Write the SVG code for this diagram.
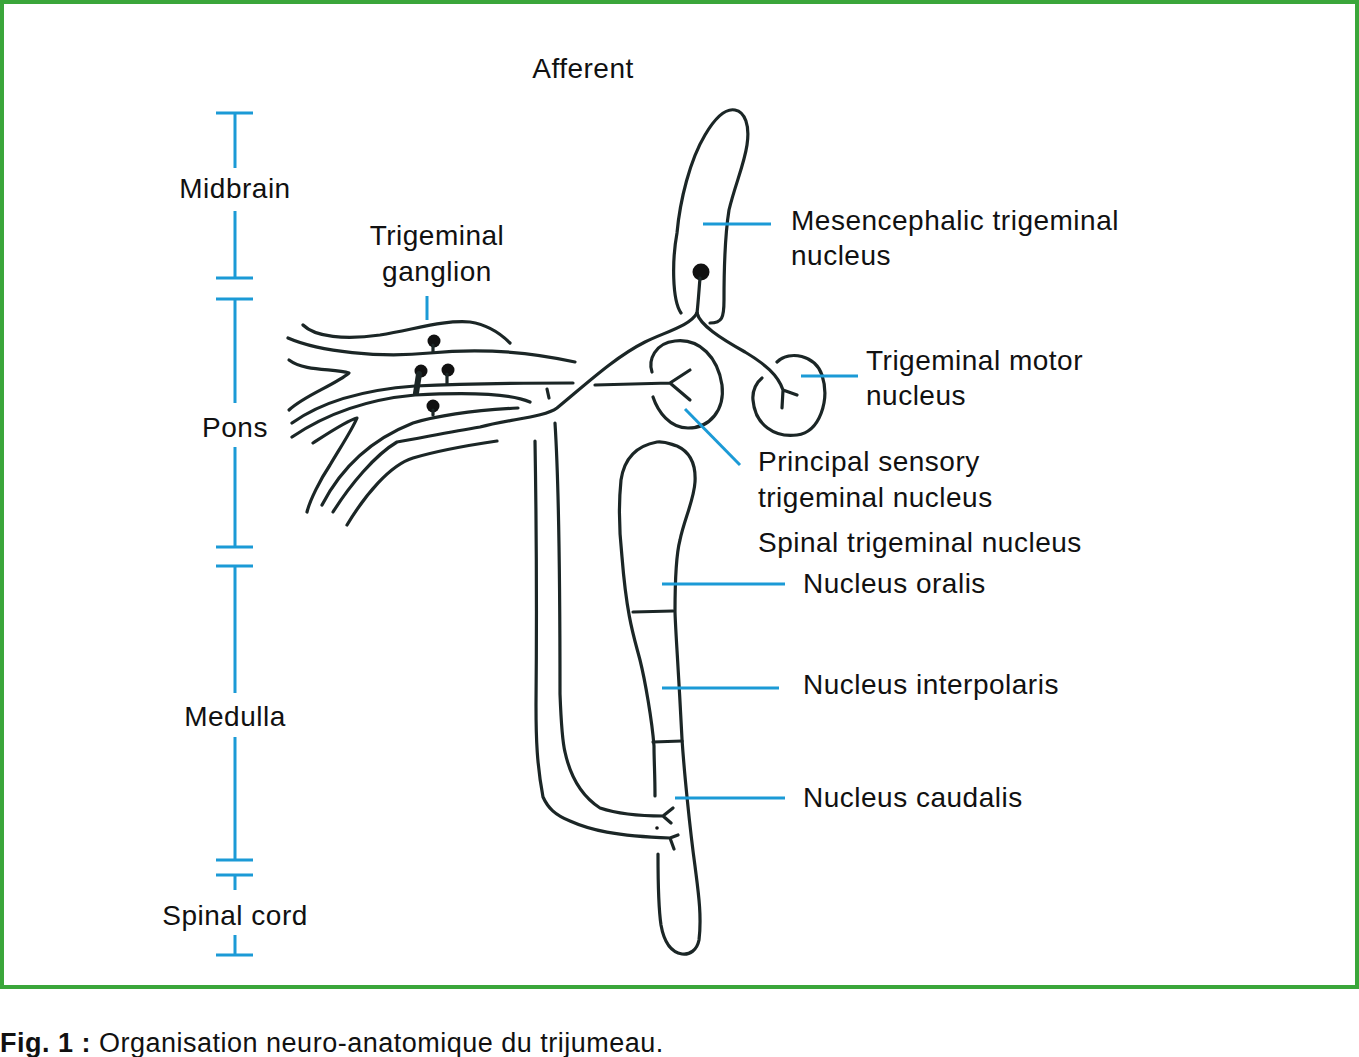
<svg xmlns="http://www.w3.org/2000/svg" width="1359" height="1057" viewBox="0 0 1359 1057">
<style>
.n{fill:none;stroke:#1b2626;stroke-width:3.2;stroke-linecap:round;stroke-linejoin:round}
.b{fill:none;stroke:#1b9ad6;stroke-width:3}
.s{fill:#111}
text{font-family:"Liberation Sans",Arial,sans-serif;font-size:28px;fill:#111;letter-spacing:0.5px}
.c{text-anchor:middle}
</style>
<rect x="0" y="0" width="1359" height="1057" fill="#fff"/>
<rect id="frame" x="2" y="2" width="1355" height="985" fill="none" stroke="#3aa63a" stroke-width="4"/>

<g id="scale">
<path class="b" d="M216,113H253M235,113V168M235,211V278M216,278H253"/>
<text class="c" x="235" y="198">Midbrain</text>
<path class="b" d="M216,299H253M235,299V403M235,447V547M216,547H253"/>
<text class="c" x="235" y="437">Pons</text>
<path class="b" d="M216,566H253M235,566V693M235,737V860M216,860H253"/>
<text class="c" x="235" y="726">Medulla</text>
<path class="b" d="M216,875H253M235,875V890M235,935V955M216,955H253"/>
<text class="c" x="235" y="925">Spinal cord</text>
</g>

<g id="afferent"><text class="c" x="583" y="78">Afferent</text></g>

<g id="ganglion">
<path class="n" d="M303,325 C315,337 345,340 380,335 C420,328 445,320 470,322 C490,325 502,335 510,343"/>
<path class="n" d="M288,338 C320,352 380,358 430,353 C480,348 530,352 575,362"/>
<path class="n" d="M289,360 C305,372 335,368 349,373 C335,385 305,395 289,410"/>
<path class="n" d="M292,423 C320,403 360,390 415,386 C480,383 530,383 573,383"/>
<path class="n" d="M292,437 C320,418 360,400 415,395 C470,392 510,393 530,402"/>
<path class="n" d="M547,389 L549,398"/>
<path class="n" d="M322,505 C340,470 370,440 413,423 C440,415 480,410 518,408"/>
<path class="n" d="M313,443 C330,432 348,420 357,418 C352,430 340,448 330,465 C320,480 310,500 307,512"/>
<path class="n" d="M347,525 C365,495 390,465 413,458 C440,450 470,445 497,441"/>
<circle class="s" cx="434" cy="341" r="6.5"/><path class="n" d="M433,345V352"/>
<circle class="s" cx="421" cy="371" r="6.5"/><path class="n" style="stroke-width:6" d="M419,374L416,393"/>
<circle class="s" cx="448" cy="370" r="6.5"/><path class="n" d="M447,374V383"/>
<circle class="s" cx="433" cy="406" r="6.5"/><path class="n" d="M433,410V415"/>
<path class="b" d="M427,296V320"/>
<text class="c" x="437" y="245">Trigeminal</text>
<text class="c" x="437" y="281">ganglion</text>
</g>

<g id="mesencephalic">
<path class="n" d="M681,313 C672,300 672,260 677,233 C680,200 690,160 705,135 C715,118 725,108 735,110 C745,112 750,125 747,145 C744,165 735,185 729,210 C725,235 724,270 724,300 C724,318 722,323 710,323"/>
<circle class="s" cx="701" cy="272" r="8.5"/>
<path class="n" d="M700,278 C699,290 698,305 697,313"/>
<path class="b" d="M703,224H771"/>
<text x="791" y="230">Mesencephalic trigeminal</text>
<text x="791" y="265">nucleus</text>
</g>

<g id="principal">
<path class="n" d="M652,372 C648,360 655,343 675,341 C700,338 718,358 722,385 C725,410 710,428 688,428 C670,428 658,412 653,397"/>
<path class="n" d="M595,385 L670,383 M670,383 L690,370 M670,383 L690,400"/>
<path class="b" d="M685,409L740,465"/>
<text x="758" y="471">Principal sensory</text>
<text x="758" y="507">trigeminal nucleus</text>
</g>

<g id="motor">
<path class="n" d="M777,362 C790,350 815,355 822,375 C830,400 820,432 797,435 C775,438 755,425 753,400 C752,390 757,382 762,378"/>
<path class="b" d="M801,376H858"/>
<text x="866" y="370">Trigeminal motor</text>
<text x="866" y="405">nucleus</text>
</g>

<g id="spinal">
<path class="n" d="M655,796 C655,775 654,760 654,746 C652,720 645,680 640,660 C635,640 627,620 622,557 C619,530 619,500 621,480 C624,460 635,446 657,442 C665,441 670,444 677,446 C690,452 696,465 695,482 C694,500 684,520 680,540 C676,555 675,590 675,612 C676,640 678,660 682,739 C684,770 690,830 695,866 C698,890 702,915 699,940 C697,950 690,955 682,954 C670,952 664,942 661,925 C658,905 658,880 658,854"/>
<path class="n" d="M633,612 L673,611 M653,742 L682,741"/>
<text x="758" y="552">Spinal trigeminal nucleus</text>
<path class="b" d="M662,584H785"/>
<text x="803" y="593">Nucleus oralis</text>
<path class="b" d="M662,688H779"/>
<text x="803" y="694">Nucleus interpolaris</text>
<path class="b" d="M675,798H785"/>
<text x="803" y="807">Nucleus caudalis</text>
</g>

<g id="connectors">
<path class="n" d="M697,313 C690,326 665,332 645,342 C615,357 585,385 557,408 C545,417 510,419 480,427 C450,432 420,438 397,442 C375,455 350,485 333,512"/>
<path class="n" d="M697,313 C700,325 720,338 745,352 C765,364 778,375 783,390 M783,390 L797,395 M783,390 L782,408"/>
<path class="n" d="M535,441 C536,500 537,600 536,705 C536,740 537,765 543,797 C548,808 555,815 570,821 C590,830 615,836 670,838 M670,838 L678,835 M670,838 L674,849"/>
<path class="n" d="M555,423 C558,470 560,560 560,694 C561,720 562,740 565,752 C570,775 580,795 600,808 C615,813 640,816 663,816 M663,816 L673,808 M663,816 L671,823"/>
<circle class="s" cx="657" cy="828" r="1.8"/>
</g>

<g id="caption">
<text x="0" y="1052" style="font-size:27px"><tspan font-weight="bold">Fig. 1 :</tspan> Organisation neuro-anatomique du trijumeau.</text>
</g>
</svg>
